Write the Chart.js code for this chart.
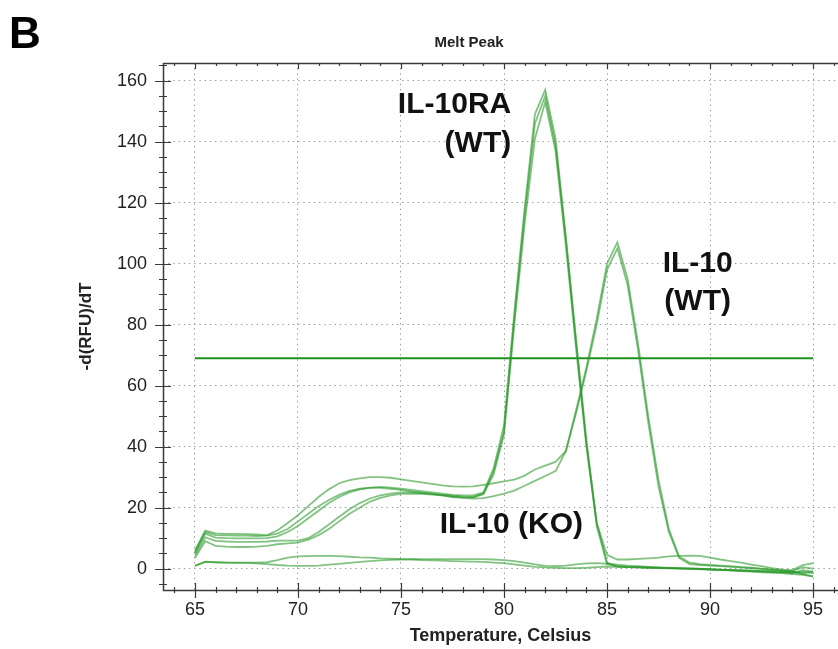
<!DOCTYPE html>
<html><head><meta charset="utf-8">
<script src="https://cdn.jsdelivr.net/npm/chart.js@4.4.1/dist/chart.umd.min.js"></script>
<style>html,body{margin:0;padding:0;background:#fff}canvas{display:block}</style>
</head><body>
<canvas id="c" width="838" height="649"></canvas>
<script>
// ---------- DATA ----------
const temperatures = [65,65.5,66,66.5,67,67.5,68,68.5,69,69.5,70,70.5,71,71.5,72,72.5,73,73.5,74,74.5,75,75.5,76,76.5,77,77.5,78,78.5,79,79.5,80,80.5,81,81.5,82,82.5,83,83.5,84,84.5,85,85.5,86,86.5,87,87.5,88,88.5,89,89.5,90,90.5,91,91.5,92,92.5,93,93.5,94,94.5,95];

const il10raWT_1 = [5.5,12,11,10.9,10.8,10.8,10.7,10.8,11.5,13,15.5,18,20.5,22.5,24.2,25.5,26.2,26.6,26.8,26.6,26.2,25.8,25.4,25,24.6,24.2,24,24,25,33,47,84,118,149,157,141,109,75,42,15,4.5,3,3,3.2,3.4,3.6,4,4.2,4.3,4.2,3.6,3,2.5,2,1.3,0.8,0.2,-0.3,-0.5,1.2,1.8];
const il10raWT_2 = [5,11.5,10.2,10,9.9,9.9,9.9,10,10.6,12,14,16.5,19,21.5,23.5,25,26,26.5,26.5,26.2,25.8,25.3,24.9,24.5,24.2,23.9,23.6,23.5,24.5,31,44,80,113,141,153,137,106,72,40,14,1.5,0.8,0.6,0.5,0.4,0.3,0.2,0.1,0,-0.1,-0.2,-0.3,-0.4,-0.5,-0.6,-0.7,-0.9,-1.1,-1.3,-1,-1.5];
const il10raWT_3 = [3.5,9,7.5,7.2,7.1,7.1,7.2,7.5,8,8.3,8.5,9.5,11,13,15.5,18,20,22,23.2,24,24.5,24.6,24.5,24.3,24,23.6,23.4,23.4,24.5,32,45,82,116,146,155,139,108,74,41,15,2,0.7,0.5,0.4,0.3,0.3,0.2,0.1,0,-0.1,-0.3,-0.4,-0.5,-0.7,-0.8,-1,-1.2,-1.3,-1.5,-0.5,-1];
const il10WT_1 = [6,12.5,11.6,11.4,11.4,11.3,11.2,11,12.5,15,17.5,20.5,23.5,26,28,29,29.6,30,30,29.8,29.3,28.8,28.3,27.8,27.3,27,26.9,27,27.5,28,28.6,29.2,30.5,32.5,33.8,35,38.5,52,66,82,100,107,95,74,50,29,13,4,2,1.5,1.2,1,0.8,0.5,0.3,0,-0.3,-0.5,-1,-1.5,-1];
const il10WT_2 = [4.3,10.3,9.1,8.9,8.8,8.8,8.8,8.9,9.2,9.2,9.2,10,12,14.5,17,19.5,21.5,23,24,24.6,25,25,24.8,24.5,24,23.5,23.2,23,23.1,23.8,24.6,25.6,27.2,28.8,30.4,32,38.5,51,65,80,98,105,93,72,48,27,12,3.5,1.5,1.2,1,0.8,0.6,0.4,0.2,-0.1,-0.4,-0.7,-1.1,-1.8,-2.5];
const il10KO_1 = [0.9,2.3,2.1,2,2,2,2,2.1,2.8,3.6,4,4.1,4.2,4.2,4.1,3.9,3.7,3.6,3.4,3.3,3.1,3,2.8,2.7,2.6,2.5,2.4,2.3,2.2,2,1.8,1.4,1,0.6,0.4,0.3,0.2,0.2,0.3,0.5,0.7,0.6,0.5,0.4,0.3,0.2,0.1,0,-0.1,-0.2,-0.3,-0.4,-0.5,-0.6,-0.7,-0.8,-0.9,-1,-0.8,0.5,0];
const il10KO_2 = [0.9,2.2,2.1,2,1.9,1.9,1.7,1.5,1.2,1,0.9,0.9,1,1.3,1.6,1.9,2.2,2.5,2.7,2.9,3,3.1,3.1,3.1,3.1,3.1,3.1,3.1,3.1,3,2.8,2.5,2,1.4,0.9,0.8,1,1.4,1.7,1.8,1.6,1.3,1,0.8,0.6,0.4,0.3,0.2,0.1,0,-0.2,-0.4,-0.6,-0.8,-1,-1.2,-1.3,-1.5,-1.8,-2,-2.5];

const thresholdValue = 69;
const thresholdRange = [65, 95];

const xTickLabels = [65,70,75,80,85,90,95];
const yTickLabels = [0,20,40,60,80,100,120,140,160];

const chartTitle = 'Melt Peak';
const panelLetter = 'B';
const xAxisTitle = 'Temperature, Celsius';
const yAxisTitle = '-d(RFU)/dT';
const labelIL10RA = ['IL-10RA', '(WT)'];
const labelIL10WT = ['IL-10', '(WT)'];
const labelIL10KO = ['IL-10 (KO)'];

// ---------- CHART ----------
const FONT = '"Liberation Sans", Arial, Helvetica, sans-serif';
const curveColor = 'rgba(40,152,40,0.58)';
const toXY = arr => arr.map((v, i) => ({x: temperatures[i], y: v}));

const curves = [il10raWT_1, il10raWT_2, il10raWT_3, il10WT_1, il10WT_2, il10KO_1, il10KO_2];
const datasets = curves.map(c => ({
  data: toXY(c), borderColor: curveColor, borderWidth: 1.8,
  pointRadius: 0, tension: 0, fill: false
}));
datasets.push({
  data: thresholdRange.map(t => ({x: t, y: thresholdValue})),
  borderColor: '#1e901e', borderWidth: 2, pointRadius: 0, fill: false
});

const annotations = [
  {lines: labelIL10RA, x: 80.35, ys: [149.3, 136.5], align: 'right'},
  {lines: labelIL10WT, x: 89.4, ys: [97.4, 84.8], align: 'center'},
  {lines: labelIL10KO, x: 80.36, ys: [11.8], align: 'center'}
];

const decorPlugin = {
  id: 'decor',
  afterDraw(chart) {
    const {ctx, chartArea: a, scales: {x, y}} = chart;
    ctx.save();
    ctx.strokeStyle = '#3a3a3a';
    ctx.lineWidth = 1.5;
    ctx.beginPath();
    ctx.moveTo(a.left + 0.5, a.top); ctx.lineTo(a.left + 0.5, a.bottom + 0.5); ctx.lineTo(a.right, a.bottom + 0.5);
    ctx.moveTo(a.left, a.top + 0.5); ctx.lineTo(a.right, a.top + 0.5);
    ctx.stroke();
    ctx.lineWidth = 1.2;
    ctx.beginPath();
    for (let t = Math.ceil(x.min); t <= x.max; t++) {
      const px = Math.round(x.getPixelForValue(t)) + 0.5;
      const major = t % 5 === 0;
      ctx.moveTo(px, a.bottom - (major ? 7 : 3)); ctx.lineTo(px, a.bottom + (major ? 8 : 3));
      ctx.moveTo(px, a.top); ctx.lineTo(px, a.top + (major ? 6 : 3));
    }
    for (let v = Math.ceil(y.min / 5) * 5; v <= y.max; v += 5) {
      const py = Math.round(y.getPixelForValue(v)) + 0.5;
      const major = v % 20 === 0;
      ctx.moveTo(a.left - (major ? 8 : 4), py); ctx.lineTo(a.left + (major ? 8 : 4), py);
    }
    ctx.stroke();
    ctx.fillStyle = '#111';
    ctx.font = 'bold 30px ' + FONT;
    ctx.textBaseline = 'alphabetic';
    annotations.forEach(an => {
      ctx.textAlign = an.align;
      an.lines.forEach((s, i) => ctx.fillText(s, x.getPixelForValue(an.x), y.getPixelForValue(an.ys[i])));
    });
    ctx.textAlign = 'center';
    ctx.font = 'bold 15px ' + FONT;
    ctx.fillStyle = '#222';
    ctx.fillText(chartTitle, 469, 47);
    ctx.textAlign = 'left';
    ctx.font = 'bold 44px ' + FONT;
    ctx.fillStyle = '#000';
    ctx.fillText(panelLetter, 9, 48);
    ctx.restore();
  }
};

new Chart(document.getElementById('c'), {
  type: 'line',
  data: {datasets},
  plugins: [decorPlugin],
  options: {
    responsive: false, animation: false, devicePixelRatio: 1,
    layout: {padding: {top: 63, left: 0, right: 0, bottom: 0}},
    plugins: {legend: {display: false}, tooltip: {enabled: false}, title: {display: false}},
    scales: {
      x: {
        type: 'linear', min: 63.45, max: 96.21,
        afterBuildTicks: s => { s.ticks = xTickLabels.map(v => ({value: v})); },
        afterFit: s => { s.height = 59; },
        grid: {color: '#9a9a9a', lineWidth: 1, drawTicks: false},
        border: {display: false, dash: [1.4, 3.8]},
        ticks: {padding: 9, color: '#222', font: {family: FONT, size: 18}, maxRotation: 0, autoSkip: false},
        title: {display: true, text: xAxisTitle, color: '#222', font: {family: FONT, size: 18, weight: 'bold'}, padding: {top: 0, bottom: 2}}
      },
      y: {
        type: 'linear', min: -7, max: 165.8,
        afterBuildTicks: s => { s.ticks = yTickLabels.map(v => ({value: v})); },
        afterFit: s => { s.width = 163; },
        grid: {color: '#9a9a9a', lineWidth: 1, drawTicks: false},
        border: {display: false, dash: [1.4, 3.8]},
        ticks: {padding: 16, color: '#222', font: {family: FONT, size: 18}, autoSkip: false},
        title: {display: true, text: yAxisTitle, color: '#222', font: {family: FONT, size: 17, weight: 'bold'}, padding: {top: 76, bottom: 0}}
      }
    }
  }
});
</script>
</body></html>
